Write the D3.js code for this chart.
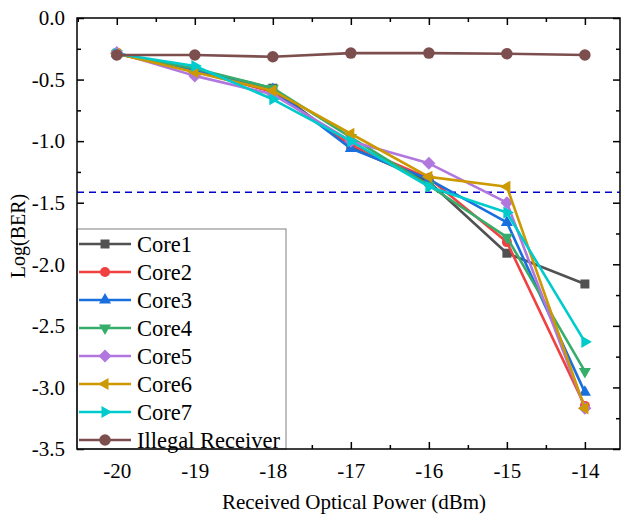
<!DOCTYPE html>
<html>
<head>
<meta charset="utf-8">
<script src="https://cdn.jsdelivr.net/npm/d3@7/dist/d3.min.js"></script>
<style>
  body { margin: 0; background: #fff; }
  svg text { font-family: "Liberation Serif", "Times New Roman", serif; }
</style>
</head>
<body>
<script>
const width = 622;
const height = 520;

// data
const powers = [-20, -19, -18, -17, -16, -15, -14];
const core1 = [-0.29, -0.42, -0.57, -1.05, -1.33, -1.91, -2.16];
const core2 = [-0.29, -0.43, -0.60, -1.03, -1.30, -1.82, -3.15];
const core3 = [-0.29, -0.42, -0.58, -1.06, -1.31, -1.66, -3.04];
const core4 = [-0.29, -0.41, -0.57, -0.97, -1.36, -1.78, -2.87];
const core5 = [-0.28, -0.47, -0.62, -1.00, -1.18, -1.50, -3.17];
const core6 = [-0.29, -0.44, -0.59, -0.94, -1.29, -1.37, -3.17];
const core7 = [-0.29, -0.39, -0.66, -1.00, -1.37, -1.58, -2.63];
const illegal = [-0.30, -0.30, -0.315, -0.285, -0.285, -0.29, -0.30];
const threshold = -1.415;

const xTicks = [-20, -19, -18, -17, -16, -15, -14];
const yTicks = [0, -0.5, -1, -1.5, -2, -2.5, -3, -3.5];

const series = [
  { name: "Core1", values: core1, color: "#515151", marker: "square" },
  { name: "Core2", values: core2, color: "#F14040", marker: "circle" },
  { name: "Core3", values: core3, color: "#1A6FDF", marker: "up" },
  { name: "Core4", values: core4, color: "#37AD6B", marker: "down" },
  { name: "Core5", values: core5, color: "#B177DE", marker: "diamond" },
  { name: "Core6", values: core6, color: "#CC9900", marker: "left" },
  { name: "Core7", values: core7, color: "#00CBCC", marker: "right" },
  { name: "Illegal Receiver", values: illegal, color: "#7D4E4E", marker: "circle" }
];

const pl = 77, pr = 620, pt = 18, pb = 449;

const x = d3.scaleLinear().domain([-20.51, -13.55]).range([pl, pr]);
const y = d3.scaleLinear().domain([-3.5, 0]).range([pb, pt]);

function markerPath(type) {
  const p = d3.path();
  if (type === "square") {
    p.rect(-4.5, -4.5, 9, 9);
  } else if (type === "circle") {
    p.moveTo(5, 0);
    p.arc(0, 0, 5, 0, 2 * Math.PI);
  } else if (type === "diamond") {
    const r = 6.5;
    p.moveTo(0, -r); p.lineTo(r, 0); p.lineTo(0, r); p.lineTo(-r, 0);
  } else {
    const r = 7;
    const a = 0.866 * r, b = 0.5 * r;
    let pts;
    if (type === "up") pts = [[0, -r], [a, b], [-a, b]];
    if (type === "down") pts = [[0, r], [a, -b], [-a, -b]];
    if (type === "left") pts = [[-r, 0], [b, -a], [b, a]];
    if (type === "right") pts = [[r, 0], [-b, -a], [-b, a]];
    p.moveTo(pts[0][0], pts[0][1]);
    p.lineTo(pts[1][0], pts[1][1]);
    p.lineTo(pts[2][0], pts[2][1]);
  }
  p.closePath();
  return p.toString();
}

const isIllegal = s => s.name.startsWith("Illegal");

const svg = d3.select("body").append("svg")
  .attr("width", width)
  .attr("height", height);

svg.append("rect").attr("width", width).attr("height", height).attr("fill", "#fff");

// threshold line
svg.append("line")
  .attr("x1", pl).attr("x2", pr)
  .attr("y1", y(threshold)).attr("y2", y(threshold))
  .attr("stroke", "#0000CC")
  .attr("stroke-width", 1.3)
  .attr("stroke-dasharray", "7,5");

// series
const line = d3.line()
  .x((d, i) => x(powers[i]))
  .y(d => y(d));

for (const s of series) {
  const g = svg.append("g");
  g.append("path")
    .attr("d", line(s.values))
    .attr("fill", "none")
    .attr("stroke", s.color)
    .attr("stroke-width", 2.6)
    .attr("stroke-linejoin", "round");
  g.selectAll("path.m")
    .data(s.values)
    .join("path")
    .attr("class", "m")
    .attr("d", markerPath(s.marker))
    .attr("transform", (d, i) => `translate(${x(powers[i])},${y(d)})` + (isIllegal(s) ? " scale(1.15)" : ""))
    .attr("fill", s.color);
}

// axes: ticks inward on all four sides
const xMinor = d3.range(-20.5, -13.5, 0.5).filter(v => !xTicks.includes(v));
const yMinor = d3.range(-3.25, 0, 0.5);

svg.append("g")
  .attr("transform", `translate(0,${pb})`)
  .call(d3.axisBottom(x).tickValues(xTicks).tickSize(-7).tickPadding(14).tickFormat(d => String(d)))
  .call(g => g.select(".domain").remove());
svg.append("g")
  .attr("transform", `translate(0,${pb})`)
  .call(d3.axisBottom(x).tickValues(xMinor).tickSize(-4).tickFormat(""))
  .call(g => g.select(".domain").remove());
svg.append("g")
  .attr("transform", `translate(0,${pt})`)
  .call(d3.axisTop(x).tickValues(xTicks).tickSize(-7).tickFormat(""))
  .call(g => g.select(".domain").remove());
svg.append("g")
  .attr("transform", `translate(0,${pt})`)
  .call(d3.axisTop(x).tickValues(xMinor).tickSize(-4).tickFormat(""))
  .call(g => g.select(".domain").remove());

svg.append("g")
  .attr("transform", `translate(${pl},0)`)
  .call(d3.axisLeft(y).tickValues(yTicks).tickSize(-7).tickPadding(12).tickFormat(d => d.toFixed(1)))
  .call(g => g.select(".domain").remove());
svg.append("g")
  .attr("transform", `translate(${pl},0)`)
  .call(d3.axisLeft(y).tickValues(yMinor).tickSize(-4).tickFormat(""))
  .call(g => g.select(".domain").remove());
svg.append("g")
  .attr("transform", `translate(${pr},0)`)
  .call(d3.axisRight(y).tickValues(yTicks).tickSize(-7).tickFormat(""))
  .call(g => g.select(".domain").remove());
svg.append("g")
  .attr("transform", `translate(${pr},0)`)
  .call(d3.axisRight(y).tickValues(yMinor).tickSize(-4).tickFormat(""))
  .call(g => g.select(".domain").remove());

svg.selectAll(".tick line").attr("stroke", "#000").attr("stroke-width", 1.5);
svg.selectAll(".tick text")
  .style("font-family", "'Liberation Serif', 'Times New Roman', serif")
  .style("font-size", "21px")
  .attr("fill", "#000");

// legend
const legend = svg.append("g");
legend.append("rect")
  .attr("x", pl).attr("y", 229)
  .attr("width", 209).attr("height", pb - 229)
  .attr("fill", "#fff")
  .attr("stroke", "#808080")
  .attr("stroke-width", 1);

const rows = legend.selectAll("g")
  .data(series)
  .join("g")
  .attr("transform", (d, i) => `translate(0,${244 + i * 28})`);
rows.append("line")
  .attr("x1", 79).attr("x2", 131)
  .attr("stroke", d => d.color)
  .attr("stroke-width", 2.6);
rows.append("path")
  .attr("d", d => markerPath(d.marker))
  .attr("transform", d => `translate(105,0)` + (isIllegal(d) ? " scale(1.15)" : ""))
  .attr("fill", d => d.color);
rows.append("text")
  .attr("x", 137)
  .attr("dy", "0.35em")
  .style("font-size", "22.5px")
  .text(d => d.name);

// frame
svg.append("rect")
  .attr("x", pl).attr("y", pt)
  .attr("width", pr - pl).attr("height", pb - pt)
  .attr("fill", "none")
  .attr("stroke", "#000")
  .attr("stroke-width", 1.5);

// axis titles
svg.append("text")
  .attr("x", 354)
  .attr("y", 509)
  .attr("text-anchor", "middle")
  .style("font-size", "21px")
  .text("Received Optical Power (dBm)");

svg.append("text")
  .attr("transform", `translate(25,236) rotate(-90)`)
  .attr("text-anchor", "middle")
  .style("font-size", "20px")
  .text("Log(BER)");
</script>
</body>
</html>
